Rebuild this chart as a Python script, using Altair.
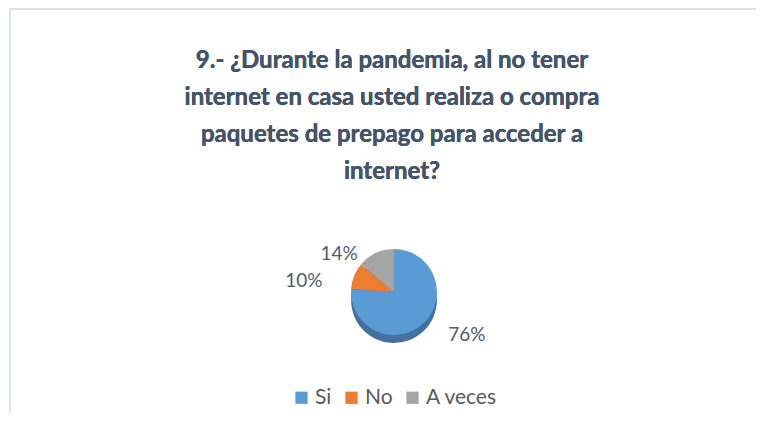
import altair as alt
import pandas as pd

categories = ["Si", "No", "A veces"]
values = [76, 10, 14]
labels = ["76%", "10%", "14%"]
colors = ["#5B9BD5", "#ED7D31", "#A5A5A5"]
title_lines = [
    "9.- ¿Durante la pandemia, al no tener",
    "internet en casa usted realiza o compra",
    "paquetes de prepago para acceder a",
    "internet?",
]

df = pd.DataFrame({"cat": categories, "val": values, "label": labels, "ord": [0, 1, 2]})

W, H = 748, 405
CX, CY = 386, 284
R = 43

base = alt.Chart(df)

side = base.mark_arc(radius=R, yOffset=8).encode(
    theta=alt.Theta("val:Q", stack=True),
    order=alt.Order("ord:Q"),
    x=alt.value(CX), y=alt.value(CY),
    color=alt.value("#41719C"),
)

pie = base.mark_arc(radius=R).encode(
    theta=alt.Theta("val:Q", stack=True),
    order=alt.Order("ord:Q"),
    x=alt.value(CX), y=alt.value(CY),
    color=alt.Color("cat:N", scale=alt.Scale(domain=categories, range=colors),
                    sort=categories,
                    legend=alt.Legend(title=None, orient="none", legendX=283, legendY=379,
                                      direction="horizontal", symbolType="square",
                                      symbolSize=150, symbolStrokeWidth=0,
                                      labelFontSize=21, labelFont="Lato",
                                      labelColor="#595959", columnPadding=9,
                                      labelOffset=3)),
)

lbl = base.transform_joinaggregate(total="sum(val)").transform_window(
    cum="sum(val)", sort=[alt.SortField("ord")]
).transform_calculate(
    mid="(datum.cum - datum.val/2)/datum.total*2*PI",
    lx=f"{CX} + 70*sin(datum.mid) + 25*(sin(datum.mid) > 0 ? 1 : -1)",
    ly=f"{CY} + 7 - 50*cos(datum.mid)",
).mark_text(fontSize=19, font="Lato", color="#4F5B6D").encode(
    x=alt.X("lx:Q", scale=None),
    y=alt.Y("ly:Q", scale=None),
    text="label:N",
)

title = base.mark_text(
    text="\n".join(title_lines), lineBreak="\n", fontSize=24, font="Lato",
    fontWeight="bold", color="#44546A", lineHeight=37, baseline="top", align="center",
).encode(x=alt.value(384), y=alt.value(41))

vline = base.mark_rule(color="#DCE1E9", strokeWidth=2).encode(
    x=alt.value(2), y=alt.value(1), y2=alt.value(H))
hline = base.mark_rule(color="#DCE1E9", strokeWidth=2).encode(
    x=alt.value(2), x2=alt.value(W), y=alt.value(1))

chart = alt.layer(vline, hline, side, pie, lbl, title).properties(
    width=W, height=H, padding=0, autosize=alt.AutoSizeParams(type="none"),
    background="white",
).configure_view(strokeWidth=0, stroke="transparent")

chart.save("out.html", embed_options={"renderer": "svg", "actions": False})
